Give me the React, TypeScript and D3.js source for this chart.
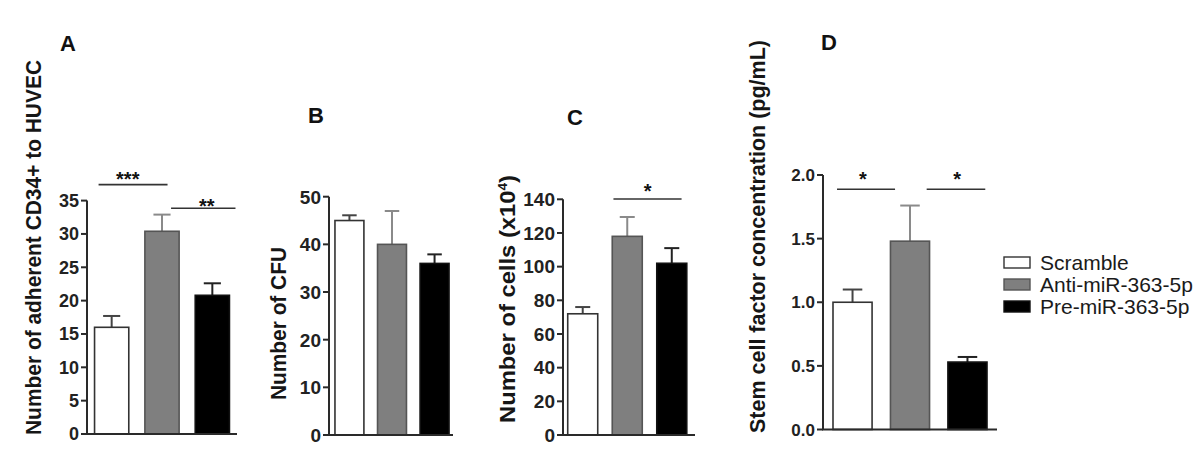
import React from "react";
import * as d3 from "d3";

const groups = ["Scramble", "Anti-miR-363-5p", "Pre-miR-363-5p"];
const groupFills = ["#ffffff", "#7f7f7f", "#000000"];
const groupStrokes = ["#333333", "#555555", "#111111"];
const errorColors = ["#444444", "#8a8a8a", "#222222"];

// Panel A: adhesion
const adhesionMeans = [16.0, 30.4, 20.8];
const adhesionSem = [1.7, 2.5, 1.8];
const adhesionTicks = [0, 5, 10, 15, 20, 25, 30, 35];
const adhesionSig = [
  { from: -0.26, to: 1.11, y: 37.4, label: "***", sx: 0.32, sy: 38.9 },
  { from: 1.18, to: 2.46, y: 33.85, label: "**", sx: 1.89, sy: 34.8 },
];

// Panel B: CFU
const cfuMeans = [45, 40, 36];
const cfuSem = [1.1, 7.0, 1.9];
const cfuTicks = [0, 10, 20, 30, 40, 50];
const cfuSig: any[] = [];

// Panel C: cell number
const cellMeans = [72, 118, 102];
const cellSem = [4, 11.5, 9];
const cellTicks = [0, 20, 40, 60, 80, 100, 120, 140];
const cellSig = [{ from: 0.69, to: 2.22, y: 140.2, label: "*", sx: 1.46, sy: 147.3 }];

// Panel D: SCF concentration
const scfMeans = [1.0, 1.48, 0.53];
const scfSem = [0.1, 0.28, 0.04];
const scfTicks = [0, 0.5, 1.0, 1.5, 2.0];
const scfSig = [
  { from: -0.27, to: 0.74, y: 1.888, label: "*", sx: 0.18, sy: 2.0 },
  { from: 1.29, to: 2.31, y: 1.888, label: "*", sx: 1.82, sy: 2.0 },
];

const FONT = "'Liberation Sans', Arial, Helvetica, sans-serif";

type PanelProps = {
  letter: string;
  letterX: number;
  letterY: number;
  means: number[];
  sem: number[];
  ticks: number[];
  tickFmt: (v: number) => string;
  tickFont: number;
  sig: any[];
  left: number;
  right: number;
  axisEnd: number;
  y0: number;
  yTop: number;
  max: number;
  pInner: number;
  pOuter: number;
  label: React.ReactNode;
  labelX: number;
  labelY: number;
  labelLen: number;
};

function Panel(p: PanelProps) {
  const x = d3
    .scaleBand<string>()
    .domain(groups)
    .range([p.left, p.right])
    .paddingInner(p.pInner)
    .paddingOuter(p.pOuter);
  const y = d3.scaleLinear().domain([0, p.max]).range([p.y0, p.yTop]);
  const bw = x.bandwidth();
  const step = x.step();
  const c0 = (x(groups[0]) as number) + bw / 2;
  const gp = d3.scaleLinear().domain([0, 1]).range([c0, c0 + step]);
  const axisColor = "#2a2a2a";
  return (
    <g>
      <text
        x={p.letterX}
        y={p.letterY}
        fontFamily={FONT}
        fontWeight="bold"
        fontSize={22}
        fill="#111"
      >
        {p.letter}
      </text>
      <text
        transform={`translate(${p.labelX},${p.labelY}) rotate(-90)`}
        textAnchor="middle"
        dy="0.36em"
        fontFamily={FONT}
        fontWeight="bold"
        fontSize={22.5}
        fill="#161616"
        textLength={p.labelLen}
        lengthAdjust="spacingAndGlyphs"
      >
        {p.label}
      </text>
      {groups.map((g, i) => {
        const top = y(p.means[i]);
        const errTop = y(p.means[i] + p.sem[i]);
        const cx = (x(g) as number) + bw / 2;
        return (
          <g key={g}>
            <line x1={cx} x2={cx} y1={top} y2={errTop} stroke={errorColors[i]} strokeWidth={2} />
            <line
              x1={cx - bw / 4}
              x2={cx + bw / 4}
              y1={errTop}
              y2={errTop}
              stroke={errorColors[i]}
              strokeWidth={2}
            />
            <rect
              x={x(g)}
              y={top}
              width={bw}
              height={p.y0 - top}
              fill={groupFills[i]}
              stroke={groupStrokes[i]}
              strokeWidth={1.6}
            />
          </g>
        );
      })}
      <line
        x1={p.left}
        x2={p.left}
        y1={p.y0}
        y2={y(p.ticks[p.ticks.length - 1])}
        stroke={axisColor}
        strokeWidth={2}
      />
      <line x1={p.left - 1} x2={p.axisEnd} y1={p.y0} y2={p.y0} stroke={axisColor} strokeWidth={2} />
      {p.ticks.map((t) => (
        <g key={t}>
          <line x1={p.left - 6} x2={p.left} y1={y(t)} y2={y(t)} stroke={axisColor} strokeWidth={2} />
          <text
            x={p.left - 8}
            y={y(t)}
            dy="0.36em"
            textAnchor="end"
            fontFamily={FONT}
            fontWeight="bold"
            fontSize={p.tickFont}
            fill="#222"
          >
            {p.tickFmt(t)}
          </text>
        </g>
      ))}
      {p.sig.map((s, k) => (
        <g key={k}>
          <line x1={gp(s.from)} x2={gp(s.to)} y1={y(s.y)} y2={y(s.y)} stroke="#333" strokeWidth={1.6} />
          <text
            x={gp(s.sx)}
            y={y(s.sy) + 0.56 * 20}
            textAnchor="middle"
            fontFamily={FONT}
            fontWeight="bold"
            fontSize={20}
            fill="#111"
          >
            {s.label}
          </text>
        </g>
      ))}
    </g>
  );
}

export default function App() {
  const intFmt = d3.format("d");
  const decFmt = d3.format(".1f");
  return (
    <svg width={1200} height={467} style={{ position: "absolute", left: 0, top: 0, background: "#fff" }}>
      <rect x={0} y={0} width={1200} height={467} fill="#fff" />
      <Panel
        letter="A"
        letterX={60}
        letterY={51}
        means={adhesionMeans}
        sem={adhesionSem}
        ticks={adhesionTicks}
        tickFmt={intFmt}
        tickFont={18}
        sig={adhesionSig}
        left={87}
        right={237}
        axisEnd={237}
        y0={434}
        yTop={200.6}
        max={35}
        pInner={0.32}
        pOuter={0.15}
        label="Number of adherent CD34+ to HUVEC"
        labelX={33}
        labelY={247.5}
        labelLen={375}
      />
      <Panel
        letter="B"
        letterX={308}
        letterY={123}
        means={cfuMeans}
        sem={cfuSem}
        ticks={cfuTicks}
        tickFont={19}
        tickFmt={intFmt}
        sig={cfuSig}
        left={329}
        right={455}
        axisEnd={453}
        y0={435}
        yTop={196.7}
        max={50}
        pInner={0.32}
        pOuter={0.14}
        label="Number of CFU"
        labelX={278}
        labelY={323.5}
        labelLen={153}
      />
      <Panel
        letter="C"
        letterX={567}
        letterY={124.5}
        means={cellMeans}
        sem={cellSem}
        ticks={cellTicks}
        tickFont={19}
        tickFmt={intFmt}
        sig={cellSig}
        left={563}
        right={691.5}
        axisEnd={695}
        y0={435}
        yTop={199.3}
        max={140}
        pInner={0.326}
        pOuter={0.106}
        label={
          <>
            Number of cells (x10
            <tspan fontSize={13} dy={-8}>
              4
            </tspan>
            <tspan dy={8}>)</tspan>
          </>
        }
        labelX={507}
        labelY={299}
        labelLen={248}
      />
      <Panel
        letter="D"
        letterX={821}
        letterY={50}
        means={scfMeans}
        sem={scfSem}
        ticks={scfTicks}
        tickFont={17}
        tickFmt={decFmt}
        sig={scfSig}
        left={823}
        right={997}
        axisEnd={997}
        y0={429.5}
        yTop={175}
        max={2.0}
        pInner={0.32}
        pOuter={0.174}
        label="Stem cell factor concentration (pg/mL)"
        labelX={757}
        labelY={236.5}
        labelLen={393}
      />
      {groups.map((g, i) => (
        <g key={g}>
          <rect
            x={1004}
            y={257 + i * 22}
            width={26}
            height={11}
            fill={groupFills[i]}
            stroke={groupStrokes[i]}
            strokeWidth={1.4}
          />
          <text x={1040} y={262.5 + i * 22} dy="0.36em" fontFamily={FONT} fontSize={21} fill="#1a1a1a">
            {g}
          </text>
        </g>
      ))}
    </svg>
  );
}
